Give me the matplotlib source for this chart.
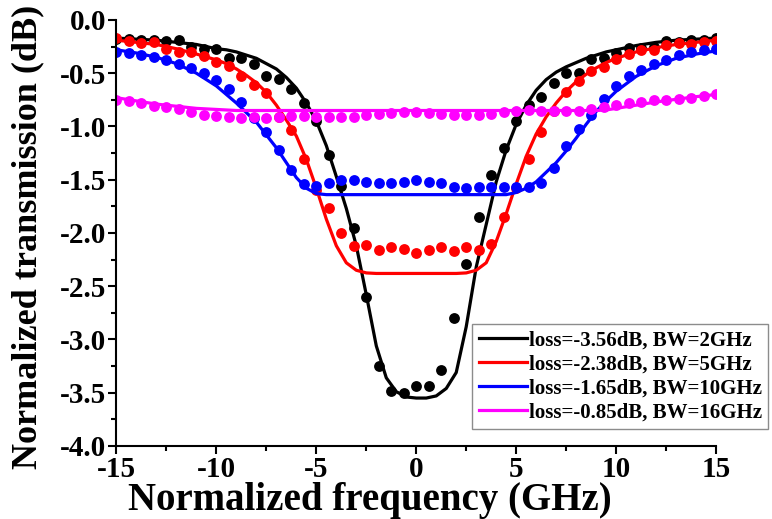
import matplotlib
matplotlib.use("Agg")
import matplotlib.pyplot as plt
from matplotlib.lines import Line2D
from matplotlib.ticker import MultipleLocator
import numpy as np

plt.rcParams['font.family'] = ['Liberation Serif', 'DejaVu Serif']
plt.rcParams['font.weight'] = 'bold'
plt.rcParams['axes.unicode_minus'] = False

# measured points, one every 0.625 GHz from -15 to 15
f_meas = np.linspace(-15, 15, 49)

meas_2ghz = [-0.18, -0.18, -0.19, -0.19, -0.20, -0.19, -0.25, -0.275, -0.275, -0.36,
             -0.36, -0.41, -0.53, -0.55, -0.65, -0.78, -0.945, -1.27, -1.56, -1.95,
             -2.60, -3.25, -3.48, -3.505, -3.44, -3.44, -3.29, -2.80, -2.29, -1.85,
             -1.455, -1.20, -0.95, -0.80, -0.72, -0.595, -0.50, -0.495, -0.37, -0.36,
             -0.31, -0.26, -0.265, -0.25, -0.20, -0.21, -0.19, -0.19, -0.17]
meas_5ghz = [-0.17, -0.20, -0.22, -0.21, -0.27, -0.30, -0.30, -0.34, -0.39, -0.43,
             -0.53, -0.61, -0.69, -0.91, -1.03, -1.31, -1.60, -1.77, -2.00, -2.12,
             -2.11, -2.16, -2.13, -2.15, -2.19, -2.16, -2.13, -2.17, -2.13, -2.16,
             -2.10, -1.85, -1.58, -1.31, -1.05, -0.85, -0.68, -0.57, -0.48, -0.44,
             -0.37, -0.32, -0.28, -0.28, -0.235, -0.22, -0.225, -0.21, -0.20]
meas_10ghz = [-0.30, -0.31, -0.33, -0.35, -0.375, -0.41, -0.45, -0.50, -0.56, -0.65,
              -0.77, -0.92, -1.05, -1.22, -1.41, -1.54, -1.56, -1.53, -1.50, -1.50,
              -1.52, -1.53, -1.53, -1.52, -1.50, -1.52, -1.53, -1.565, -1.58, -1.57,
              -1.565, -1.57, -1.565, -1.565, -1.53, -1.39, -1.18, -1.02, -0.89, -0.745,
              -0.62, -0.53, -0.47, -0.41, -0.375, -0.33, -0.30, -0.28, -0.275]
meas_16ghz = [-0.75, -0.765, -0.78, -0.805, -0.815, -0.835, -0.86, -0.89, -0.905, -0.91,
              -0.92, -0.91, -0.92, -0.91, -0.90, -0.905, -0.91, -0.91, -0.91, -0.91,
              -0.89, -0.88, -0.87, -0.86, -0.86, -0.87, -0.88, -0.89, -0.89, -0.89,
              -0.88, -0.865, -0.855, -0.845, -0.85, -0.85, -0.85, -0.85, -0.84, -0.82,
              -0.80, -0.78, -0.77, -0.75, -0.75, -0.745, -0.735, -0.715, -0.695]

# simulated filter responses
f_sim = [-15, -14, -13, -12, -11, -10, -9.5, -9, -8.5, -8, -7.5, -7, -6.5, -6, -5.5,
         -5, -4.5, -4, -3.5, -3, -2.5, -2, -1.5, -1, -0.5, 0, 0.5, 1, 1.5, 2, 2.5,
         3, 3.5, 4, 4.5, 5, 5.5, 6, 6.5, 7, 7.5, 8, 8.5, 9, 9.5, 10, 11, 12, 13, 14, 15]

sim_2ghz = [-0.17, -0.18, -0.19, -0.21, -0.23, -0.27, -0.28, -0.30, -0.33, -0.36, -0.41,
            -0.46, -0.54, -0.64, -0.78, -0.95, -1.18, -1.47, -1.77, -2.12, -2.58, -3.06,
            -3.36, -3.49, -3.54, -3.55, -3.55, -3.53, -3.46, -3.31, -2.88, -2.32, -1.92,
            -1.52, -1.22, -0.98, -0.80, -0.66, -0.56, -0.49, -0.44, -0.40, -0.36, -0.33,
            -0.30, -0.28, -0.24, -0.21, -0.19, -0.18, -0.17]
sim_5ghz = [-0.19, -0.21, -0.23, -0.27, -0.32, -0.375, -0.41, -0.46, -0.52, -0.59, -0.68,
            -0.80, -0.94, -1.09, -1.31, -1.58, -1.87, -2.12, -2.28, -2.35, -2.375, -2.38,
            -2.38, -2.38, -2.38, -2.38, -2.38, -2.38, -2.38, -2.38, -2.375, -2.35, -2.28,
            -2.08, -1.82, -1.54, -1.28, -1.07, -0.91, -0.78, -0.67, -0.58, -0.51, -0.45,
            -0.40, -0.36, -0.30, -0.26, -0.23, -0.21, -0.19]
sim_10ghz = [-0.28, -0.31, -0.35, -0.41, -0.50, -0.62, -0.70, -0.78, -0.87, -0.96, -1.08,
             -1.20, -1.34, -1.48, -1.58, -1.63, -1.64, -1.64, -1.64, -1.64, -1.64, -1.64,
             -1.64, -1.64, -1.64, -1.64, -1.64, -1.64, -1.64, -1.64, -1.64, -1.64, -1.64,
             -1.64, -1.64, -1.62, -1.58, -1.52, -1.43, -1.34, -1.23, -1.11, -0.98, -0.86,
             -0.76, -0.67, -0.53, -0.43, -0.36, -0.32, -0.29]
sim_16ghz = [-0.73, -0.76, -0.79, -0.81, -0.83, -0.84, -0.845, -0.85, -0.85, -0.85, -0.85,
             -0.85, -0.85, -0.85, -0.85, -0.85, -0.85, -0.85, -0.85, -0.85, -0.85, -0.85,
             -0.85, -0.85, -0.85, -0.85, -0.85, -0.85, -0.85, -0.85, -0.85, -0.85, -0.85,
             -0.85, -0.85, -0.85, -0.85, -0.85, -0.85, -0.85, -0.85, -0.85, -0.85, -0.85,
             -0.845, -0.83, -0.80, -0.77, -0.745, -0.72, -0.70]

labels = ["loss=-3.56dB, BW=2GHz", "loss=-2.38dB, BW=5GHz",
          "loss=-1.65dB, BW=10GHz", "loss=-0.85dB, BW=16GHz"]
colors = ["black", "#ff0000", "#0000ff", "#ff00ff"]

fig = plt.figure(figsize=(7.72, 5.19), dpi=100)
ax = fig.add_axes([0.1509, 0.1407, 0.7766, 0.8208])

sims = [sim_2ghz, sim_5ghz, sim_10ghz, sim_16ghz]
meas = [meas_2ghz, meas_5ghz, meas_10ghz, meas_16ghz]
for s, m, c in zip(sims, meas, colors):
    ax.plot(f_sim, s, color=c, lw=2.3)
    ax.plot(f_meas, m, 'o', color=c, ms=7.8, mec='none')

ax.set_xlim(-15, 15)
ax.set_ylim(-4.0, 0.0)
ax.xaxis.set_major_locator(MultipleLocator(5))
ax.xaxis.set_minor_locator(MultipleLocator(2.5))
ax.yaxis.set_major_locator(MultipleLocator(0.5))
ax.yaxis.set_minor_locator(MultipleLocator(0.25))
ax.yaxis.set_major_formatter(plt.FormatStrFormatter('%.1f'))

ax.spines['top'].set_visible(False)
ax.spines['right'].set_visible(False)
for sp in ['left', 'bottom']:
    ax.spines[sp].set_linewidth(1.5)
ax.tick_params(which='major', direction='out', length=6, width=1.5, labelsize=21, pad=1.5)
ax.tick_params(which='minor', direction='out', length=3.6, width=1.5)

ax.set_xlabel("Normalized frequency (GHz)", fontsize=28, fontweight='bold')
ax.set_ylabel("Normalized transmission (dB)", fontsize=26, fontweight='bold')
ax.xaxis.set_label_coords(0.422, -0.0845)
ax.yaxis.set_label_coords(-0.121, 0.49)

handles = [Line2D([], [], color=c, lw=2.3) for c in colors]
leg = fig.legend(handles, labels, loc='upper left', bbox_to_anchor=(0.612, 0.376),
                 bbox_transform=fig.transFigure, fontsize=15, frameon=True,
                 fancybox=False, edgecolor='0.55', framealpha=1, borderaxespad=0,
                 handlelength=2.3, handletextpad=0.1, labelspacing=0.2,
                 borderpad=0.3)
leg.get_frame().set_linewidth(1.0)

fig.savefig("out.png", dpi=100)
